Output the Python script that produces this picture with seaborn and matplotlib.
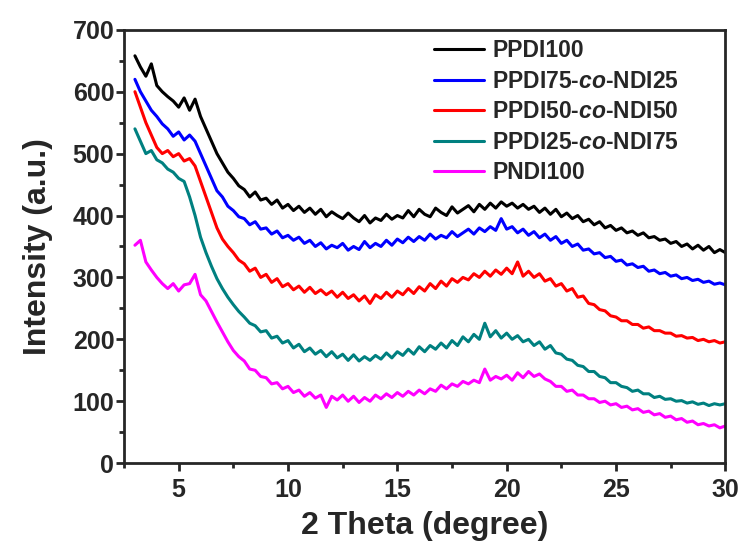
import pandas as pd
import matplotlib.pyplot as plt
import seaborn as sns
from matplotlib.ticker import MultipleLocator

# 2 theta grid (degree)
two_theta = [3.0, 3.25, 3.5, 3.75, 4.0, 4.25, 4.5, 4.75, 5.0, 5.25, 5.5, 5.75,
             6.0, 6.25, 6.5, 6.75, 7.0, 7.25, 7.5, 7.75, 8.0, 8.25, 8.5, 8.75,
             9.0, 9.25, 9.5, 9.75, 10.0, 10.25, 10.5, 10.75, 11.0, 11.25, 11.5, 11.75,
             12.0, 12.25, 12.5, 12.75, 13.0, 13.25, 13.5, 13.75, 14.0, 14.25, 14.5, 14.75,
             15.0, 15.25, 15.5, 15.75, 16.0, 16.25, 16.5, 16.75, 17.0, 17.25, 17.5, 17.75,
             18.0, 18.25, 18.5, 18.75, 19.0, 19.25, 19.5, 19.75, 20.0, 20.25, 20.5, 20.75,
             21.0, 21.25, 21.5, 21.75, 22.0, 22.25, 22.5, 22.75, 23.0, 23.25, 23.5, 23.75,
             24.0, 24.25, 24.5, 24.75, 25.0, 25.25, 25.5, 25.75, 26.0, 26.25, 26.5, 26.75,
             27.0, 27.25, 27.5, 27.75, 28.0, 28.25, 28.5, 28.75, 29.0, 29.25, 29.5, 29.75,
             30.0]

ppdi100 = [658, 640, 625, 645, 610, 600, 592, 585, 575, 590, 570, 588,
           560, 540, 520, 500, 485, 470, 460, 448, 442, 430, 438, 425,
           428, 418, 425, 412, 418, 408, 415, 405, 412, 402, 410, 398,
           406, 400, 395, 404, 396, 390, 400, 388, 396, 392, 402, 394,
           400, 396, 408, 398, 410, 402, 398, 412, 405, 400, 414, 404,
           410, 416, 406, 418, 410, 420, 412, 422, 415, 420, 412, 418,
           410, 415, 405, 412, 402, 410, 398, 404, 395, 400, 390, 394,
           385, 390, 380, 384, 376, 380, 372, 375, 368, 372, 364, 366,
           360, 362, 355, 358, 350, 354, 346, 352, 344, 350, 340, 345,
           340]

ppdi75 = [620, 600, 585, 570, 560, 548, 540, 528, 535, 522, 530, 520,
          500, 480, 460, 440, 430, 415, 408, 398, 395, 385, 390, 378,
          380, 370, 375, 364, 368, 360, 365, 355, 360, 350, 356, 346,
          352, 348, 355, 344, 350, 345, 358, 348, 355, 350, 360, 352,
          362, 356, 365, 358, 366, 360, 370, 362, 368, 364, 374, 366,
          372, 378, 370, 380, 374, 382, 376, 395, 378, 382, 372, 378,
          368, 374, 364, 370, 360, 366, 355, 360, 350, 354, 344, 346,
          338, 340, 332, 334, 326, 328, 320, 322, 316, 318, 310, 312,
          306, 308, 302, 304, 298, 300, 295, 297, 292, 294, 289, 291,
          288]

ppdi50 = [600, 575, 550, 530, 510, 500, 505, 495, 500, 488, 492, 480,
          455, 430, 405, 380, 362, 350, 340, 328, 322, 310, 315, 300,
          305, 292, 298, 285, 290, 280, 286, 276, 284, 274, 280, 272,
          278, 268, 276, 266, 272, 262, 270, 258, 272, 266, 276, 268,
          278, 272, 282, 274, 285, 278, 290, 282, 294, 286, 298, 292,
          300, 296, 306, 300, 310, 302, 312, 305, 315, 306, 325, 302,
          310, 300, 306, 294, 298, 286, 290, 278, 282, 268, 270, 258,
          256, 248, 246, 238, 236, 230, 230, 224, 224, 218, 220, 214,
          214, 210, 210, 205, 206, 202, 203, 198, 200, 196, 198, 194,
          196]

ppdi25 = [540, 520, 500, 505, 490, 485, 475, 470, 460, 455, 430, 400,
          365, 340, 318, 298, 282, 268, 256, 245, 236, 226, 222, 212,
          214, 202, 205, 194, 198, 186, 192, 180, 186, 176, 182, 172,
          180, 170, 176, 166, 175, 165, 172, 166, 174, 168, 178, 170,
          180, 174, 184, 176, 188, 180, 190, 184, 194, 186, 198, 190,
          204, 196, 208, 200, 226, 204, 214, 202, 210, 200, 206, 196,
          200, 190, 196, 184, 190, 178, 176, 168, 166, 158, 156, 148,
          148, 140, 138, 130, 130, 124, 122, 116, 118, 112, 112, 106,
          108, 103, 104, 100, 101, 97, 99, 95, 97, 93, 96, 94,
          96]

pndi100 = [352, 360, 325, 312, 300, 290, 282, 290, 278, 288, 290, 305,
           272, 262, 245, 228, 212, 196, 182, 172, 165, 152, 150, 140,
           138, 128, 130, 120, 124, 114, 118, 108, 114, 105, 110, 90,
           108, 102, 110, 100, 108, 98, 106, 100, 110, 104, 112, 106,
           114, 108, 116, 110, 118, 112, 120, 116, 126, 120, 128, 124,
           132, 128, 134, 130, 152, 134, 140, 136, 142, 134, 146, 138,
           148, 140, 144, 136, 132, 124, 124, 116, 118, 110, 110, 104,
           104, 98, 100, 94, 96, 90, 92, 86, 88, 82, 84, 78,
           80, 74, 76, 70, 72, 66, 68, 62, 64, 60, 62, 57,
           60]

labels = ["PPDI100", "PPDI75-$\\it{co}$-NDI25", "PPDI50-$\\it{co}$-NDI50",
          "PPDI25-$\\it{co}$-NDI75", "PNDI100"]
colors = ["#000000", "#0000FF", "#FF0000", "#008080", "#FF00FF"]
series = [ppdi100, ppdi75, ppdi50, ppdi25, pndi100]

rows = []
for lab, vals in zip(labels, series):
    for t, v in zip(two_theta, vals):
        rows.append({"2theta": t, "intensity": v, "sample": lab})
df = pd.DataFrame(rows)

sns.set_style("ticks")
plt.rcParams["font.family"] = ["Liberation Sans", "DejaVu Sans"]
plt.rcParams["font.weight"] = "bold"
plt.rcParams["mathtext.fontset"] = "custom"
plt.rcParams["mathtext.it"] = "Liberation Sans:italic:bold"

fig = plt.figure(figsize=(7.47, 5.52), dpi=100)
ax = fig.add_axes([0.166, 0.161, 0.805, 0.785])

sns.lineplot(data=df, x="2theta", y="intensity", hue="sample",
             palette=colors, linewidth=2.2, ax=ax)

ax.set_xlim(2.5, 30)
ax.set_ylim(0, 700)
ax.xaxis.set_major_locator(MultipleLocator(5))
ax.xaxis.set_minor_locator(MultipleLocator(2.5))
ax.yaxis.set_major_locator(MultipleLocator(100))
ax.yaxis.set_minor_locator(MultipleLocator(50))

ax.set_xlabel("2 Theta (degree)", fontsize=23, fontweight="bold", labelpad=6)
ax.set_ylabel("Intensity (a.u.)", fontsize=23, fontweight="bold", labelpad=14)

for s in ax.spines.values():
    s.set_linewidth(2)
ax.tick_params(which="major", direction="out", length=6, width=2,
               labelsize=18, pad=1)
ax.tick_params(axis="x", which="major", pad=5)
ax.tick_params(which="minor", direction="out", length=3.5, width=2)
for lbl in ax.get_xticklabels() + ax.get_yticklabels():
    lbl.set_fontweight("bold")

ax.legend(title=None, frameon=False, loc="upper left", fontsize=16.5,
          handlelength=2.2, labelspacing=0.33, handletextpad=0.35,
          borderaxespad=0, bbox_to_anchor=(0.5, 1.0))

fig.savefig("out.png", dpi=100)
